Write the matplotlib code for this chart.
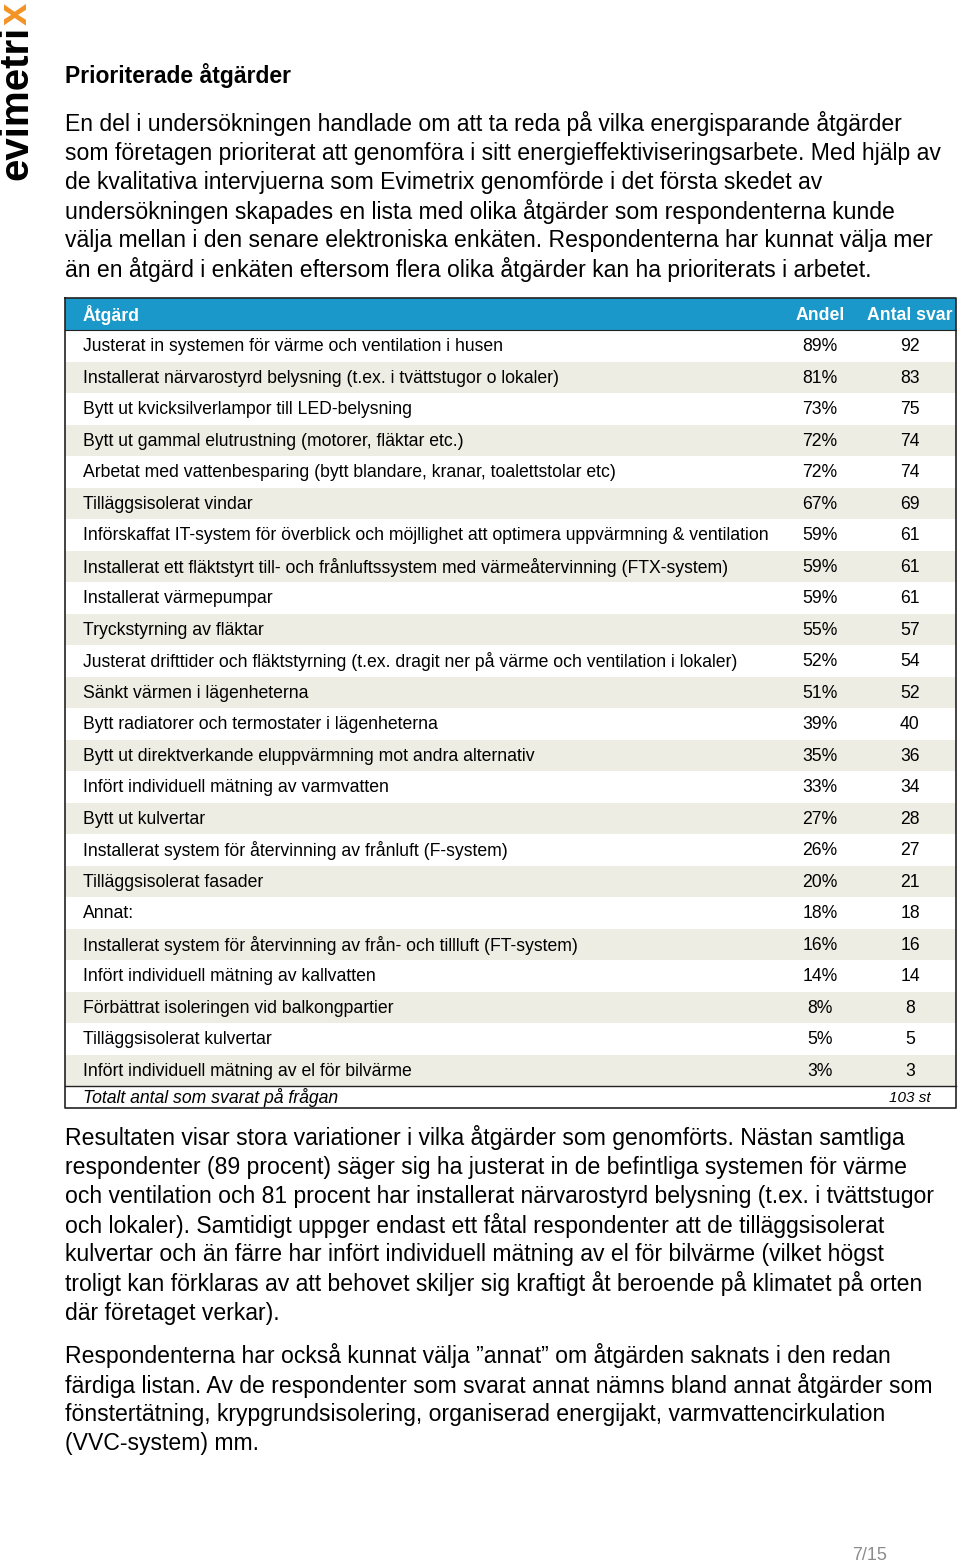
import matplotlib
matplotlib.use("Agg")
import matplotlib.pyplot as plt

# ---------------- data ----------------
title = "Prioriterade åtgärder"
intro_lines = [
    "En del i undersökningen handlade om att ta reda på vilka energisparande åtgärder",
    "som företagen prioriterat att genomföra i sitt energieffektiviseringsarbete. Med hjälp av",
    "de kvalitativa intervjuerna som Evimetrix genomförde i det första skedet av",
    "undersökningen skapades en lista med olika åtgärder som respondenterna kunde",
    "välja mellan i den senare elektroniska enkäten. Respondenterna har kunnat välja mer",
    "än en åtgärd i enkäten eftersom flera olika åtgärder kan ha prioriterats i arbetet.",
]
headers = ["Åtgärd", "Andel", "Antal svar"]
actions = [
    "Justerat in systemen för värme och ventilation i husen",
    "Installerat närvarostyrd belysning (t.ex. i tvättstugor o lokaler)",
    "Bytt ut kvicksilverlampor till LED-belysning",
    "Bytt ut gammal elutrustning (motorer, fläktar etc.)",
    "Arbetat med vattenbesparing (bytt blandare, kranar, toalettstolar etc)",
    "Tilläggsisolerat vindar",
    "Införskaffat IT-system för överblick och möjllighet att optimera uppvärmning & ventilation",
    "Installerat ett fläktstyrt till- och frånluftssystem med värmeåtervinning (FTX-system)",
    "Installerat värmepumpar",
    "Tryckstyrning av fläktar",
    "Justerat drifttider och fläktstyrning (t.ex. dragit ner på värme och ventilation i lokaler)",
    "Sänkt värmen i lägenheterna",
    "Bytt radiatorer och termostater i lägenheterna",
    "Bytt ut direktverkande eluppvärmning mot andra alternativ",
    "Infört individuell mätning av varmvatten",
    "Bytt ut kulvertar",
    "Installerat system för återvinning av frånluft (F-system)",
    "Tilläggsisolerat fasader",
    "Annat:",
    "Installerat system för återvinning av från- och tillluft (FT-system)",
    "Infört individuell mätning av kallvatten",
    "Förbättrat isoleringen vid balkongpartier",
    "Tilläggsisolerat kulvertar",
    "Infört individuell mätning av el för bilvärme",
]
andel = [89, 81, 73, 72, 72, 67, 59, 59, 59, 55, 52, 51, 39, 35, 33, 27, 26, 20, 18, 16, 14, 8, 5, 3]
antal = [92, 83, 75, 74, 74, 69, 61, 61, 61, 57, 54, 52, 40, 36, 34, 28, 27, 21, 18, 16, 14, 8, 5, 3]
total_label = "Totalt antal som svarat på frågan"
total_value = "103 st"
outro1_lines = [
    "Resultaten visar stora variationer i vilka åtgärder som genomförts. Nästan samtliga",
    "respondenter (89 procent) säger sig ha justerat in de befintliga systemen för värme",
    "och ventilation och 81 procent har installerat närvarostyrd belysning (t.ex. i tvättstugor",
    "och lokaler). Samtidigt uppger endast ett fåtal respondenter att de tilläggsisolerat",
    "kulvertar och än färre har infört individuell mätning av el för bilvärme (vilket högst",
    "troligt kan förklaras av att behovet skiljer sig kraftigt åt beroende på klimatet på orten",
    "där företaget verkar).",
]
outro2_lines = [
    "Respondenterna har också kunnat välja ”annat” om åtgärden saknats i den redan",
    "färdiga listan. Av de respondenter som svarat annat nämns bland annat åtgärder som",
    "fönstertätning, krypgrundsisolering, organiserad energijakt, varmvattencirkulation",
    "(VVC-system) mm.",
]
page_label = "7/15"
logo_main, logo_tail = "evimetri", "x"

# ---------------- styles ----------------
BODY = ["Liberation Sans", "DejaVu Sans"]
TAB = ["Liberation Sans", "DejaVu Sans"]
HEADER_BLUE = "#1A98C9"
SHADE = "#EEEDE3"
ORANGE = "#F39325"
BODY_FS = 16.6
TAB_FS = 12.7

fig = plt.figure(figsize=(9.6, 15.64), dpi=100)
ax = fig.add_axes([0, 0, 1, 1])
ax.set_xlim(0, 960)
ax.set_ylim(1564, 0)
ax.axis("off")

# logo (vertical, reading bottom to top)
logo = ax.text(27, 180, logo_main, rotation=90, ha="left", va="baseline",
               fontsize=29, fontweight="bold", family=BODY, color="black",
               rotation_mode="anchor")
fig.canvas.draw()
bb = logo.get_window_extent(renderer=fig.canvas.get_renderer())
inv = ax.transData.inverted()
ytop = inv.transform((bb.x0, bb.y1))[1]
ax.text(27, ytop - 1, logo_tail, rotation=90, ha="left", va="baseline",
        fontsize=29, fontweight="bold", family=BODY, color=ORANGE,
        rotation_mode="anchor")

# title & intro
ax.text(65, 76, title, fontsize=16.5, fontweight="bold", family=BODY,
        ha="left", va="center", color="black")
for i, line in enumerate(intro_lines):
    ax.text(65, 124 + 29.2 * i, line, fontsize=BODY_FS, family=BODY,
            ha="left", va="center", color="black")

# table geometry
t_left, t_right = 65, 956
t_top, head_bot = 298, 330
row_h = 31.5
n = len(actions)
centers = [head_bot + row_h * (i + 0.5) for i in range(n)]
rows_bot = head_bot + row_h * n
total_bot = rows_bot + 22

# header band and shaded rows
ax.barh([(t_top + head_bot) / 2], [t_right - t_left], left=t_left,
        height=head_bot - t_top, color=HEADER_BLUE, edgecolor="none")
shade_idx = [i for i in range(n) if i % 2 == 1]
ax.barh([centers[i] for i in shade_idx], [t_right - t_left] * len(shade_idx),
        left=t_left, height=row_h, color=SHADE, edgecolor="none")

# borders
lc = "#222222"
ax.plot([t_left, t_right, t_right, t_left, t_left],
        [t_top, t_top, total_bot, total_bot, t_top], color=lc, lw=1.2)
ax.plot([t_left, t_right], [rows_bot, rows_bot], color=lc, lw=1.0)
ax.plot([t_left, t_right], [head_bot, head_bot], color=lc, lw=0.8)

# header text
hy = (t_top + head_bot) / 2 + 1
ax.text(83, hy, headers[0], color="white", fontweight="bold", fontsize=TAB_FS,
        family=TAB, ha="left", va="center")
ax.text(820, hy, headers[1], color="white", fontweight="bold", fontsize=TAB_FS,
        family=TAB, ha="center", va="center")
ax.text(910, hy, headers[2], color="white", fontweight="bold", fontsize=TAB_FS,
        family=TAB, ha="center", va="center")

for i in range(n):
    y = centers[i] + 0.8
    ax.text(83, y, actions[i], fontsize=TAB_FS, family=TAB, ha="left", va="center")
    ax.text(820, y, f"{andel[i]}%", fontsize=TAB_FS, family=TAB, ha="center", va="center")
    ax.text(910, y, f"{antal[i]}", fontsize=TAB_FS, family=TAB, ha="center", va="center")

ty = (rows_bot + total_bot) / 2 + 0.5
ax.text(83, ty, total_label, fontsize=TAB_FS, family=TAB, style="italic",
        ha="left", va="center")
ax.text(931, ty, total_value, fontsize=11, family=TAB, style="italic",
        ha="right", va="center")

# outro text
for i, line in enumerate(outro1_lines):
    ax.text(65, 1138 + 29.2 * i, line, fontsize=BODY_FS, family=BODY,
            ha="left", va="center", color="black")
for i, line in enumerate(outro2_lines):
    ax.text(65, 1356 + 29.2 * i, line, fontsize=BODY_FS, family=BODY,
            ha="left", va="center", color="black")

ax.text(887, 1556, page_label, fontsize=13, family=BODY, color="#8C8C8C",
        ha="right", va="center")

fig.savefig("out.png", dpi=100)
